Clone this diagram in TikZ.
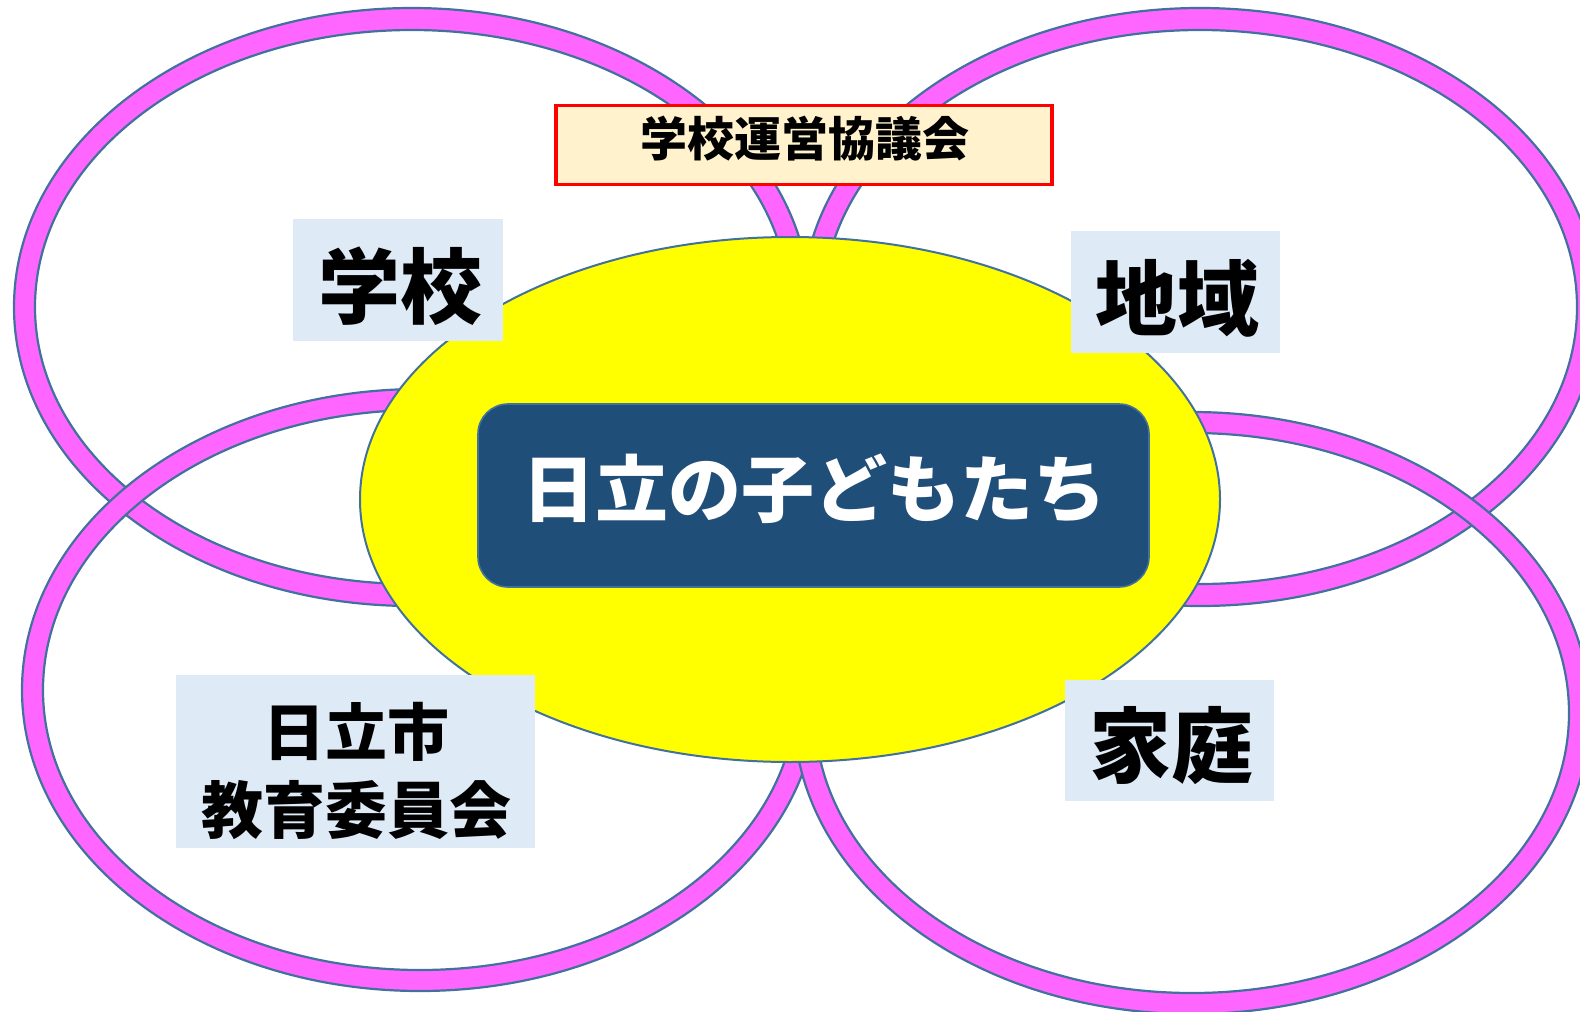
\documentclass[tikz,border=0pt]{standalone}
\usepackage{fontspec}
\newfontfamily\jp{Noto Sans CJK JP}
\usetikzlibrary{shapes.geometric}
\definecolor{ringpink}{HTML}{FF66FF}
\definecolor{edgeblue}{HTML}{41719C}
\definecolor{labelbg}{HTML}{DEEBF7}
\definecolor{navy}{HTML}{1F4E79}
\definecolor{cream}{HTML}{FFF2CC}
\definecolor{pureyellow}{HTML}{FFFF00}
\begin{document}
\begin{tikzpicture}[x=1pt,y=-1pt,
  ring/.style={fill=ringpink, draw=edgeblue, line width=2.2pt, even odd rule},
  labelbox/.style={rectangle, fill=labelbg, inner sep=0pt},
  labeltext/.style={inner sep=0pt, align=center, text=black},
]
\useasboundingbox (0,0) rectangle (1580,1012);
\clip (0,0) rectangle (1580,1012);
\fill[white] (0,0) rectangle (1580,1012);
\coordinate (tl) at (412,307);
\coordinate (tr) at (1200,307);
\coordinate (bl) at (420,690);
\coordinate (br) at (1192,713);
\path[ring] (tl) ellipse [x radius=398pt, y radius=299pt] (tl) ellipse [x radius=377pt, y radius=277pt];
\path[ring] (tr) ellipse [x radius=398pt, y radius=299pt] (tr) ellipse [x radius=377pt, y radius=277pt];
\path[ring] (bl) ellipse [x radius=398pt, y radius=301pt] (bl) ellipse [x radius=377pt, y radius=280pt];
\path[ring] (br) ellipse [x radius=398pt, y radius=301pt] (br) ellipse [x radius=377pt, y radius=280pt];
\node[ellipse, fill=pureyellow, draw=edgeblue, line width=2pt, minimum width=860pt, minimum height=525pt, inner sep=0pt] (center) at (790,499.5) {};
\node[rectangle, rounded corners=30pt, fill=navy, draw=edgeblue, line width=1.6pt, minimum width=671pt, minimum height=183pt, inner sep=0pt] (kidsbox) at (813.5,495.5) {};
\node[inner sep=0pt, text=white, font=\jp\bfseries\fontsize{73}{73}\selectfont] (kids) at (814,489) {日立の子どもたち};
\node[rectangle, fill=cream, draw=red, line width=3.2pt, minimum width=496pt, minimum height=79pt, inner sep=0pt] (councilbox) at (804,145) {};
\node[labeltext, font=\jp\bfseries\fontsize{47}{47}\selectfont] (council) at (805,139) {学校運営協議会};
\node[labelbox, minimum width=210pt, minimum height=122pt] (schoolbox) at (398,280) {};
\node[labeltext, font=\jp\bfseries\fontsize{82}{82}\selectfont] (school) at (400,286) {学校};
\node[labelbox, minimum width=209pt, minimum height=122pt] (areabox) at (1175.5,292) {};
\node[labeltext, font=\jp\bfseries\fontsize{82}{82}\selectfont] (area) at (1177,298) {地域};
\node[labelbox, minimum width=209pt, minimum height=121pt] (homebox) at (1169.5,740.5) {};
\node[labeltext, font=\jp\bfseries\fontsize{82}{82}\selectfont] (home) at (1171,746) {家庭};
\node[labelbox, minimum width=359pt, minimum height=173pt] (boardbox) at (355.5,761.5) {};
\node[labeltext, font=\jp\bfseries\fontsize{62}{78}\selectfont] (board) at (356,771) {日立市\\教育委員会};
\end{tikzpicture}
\end{document}
